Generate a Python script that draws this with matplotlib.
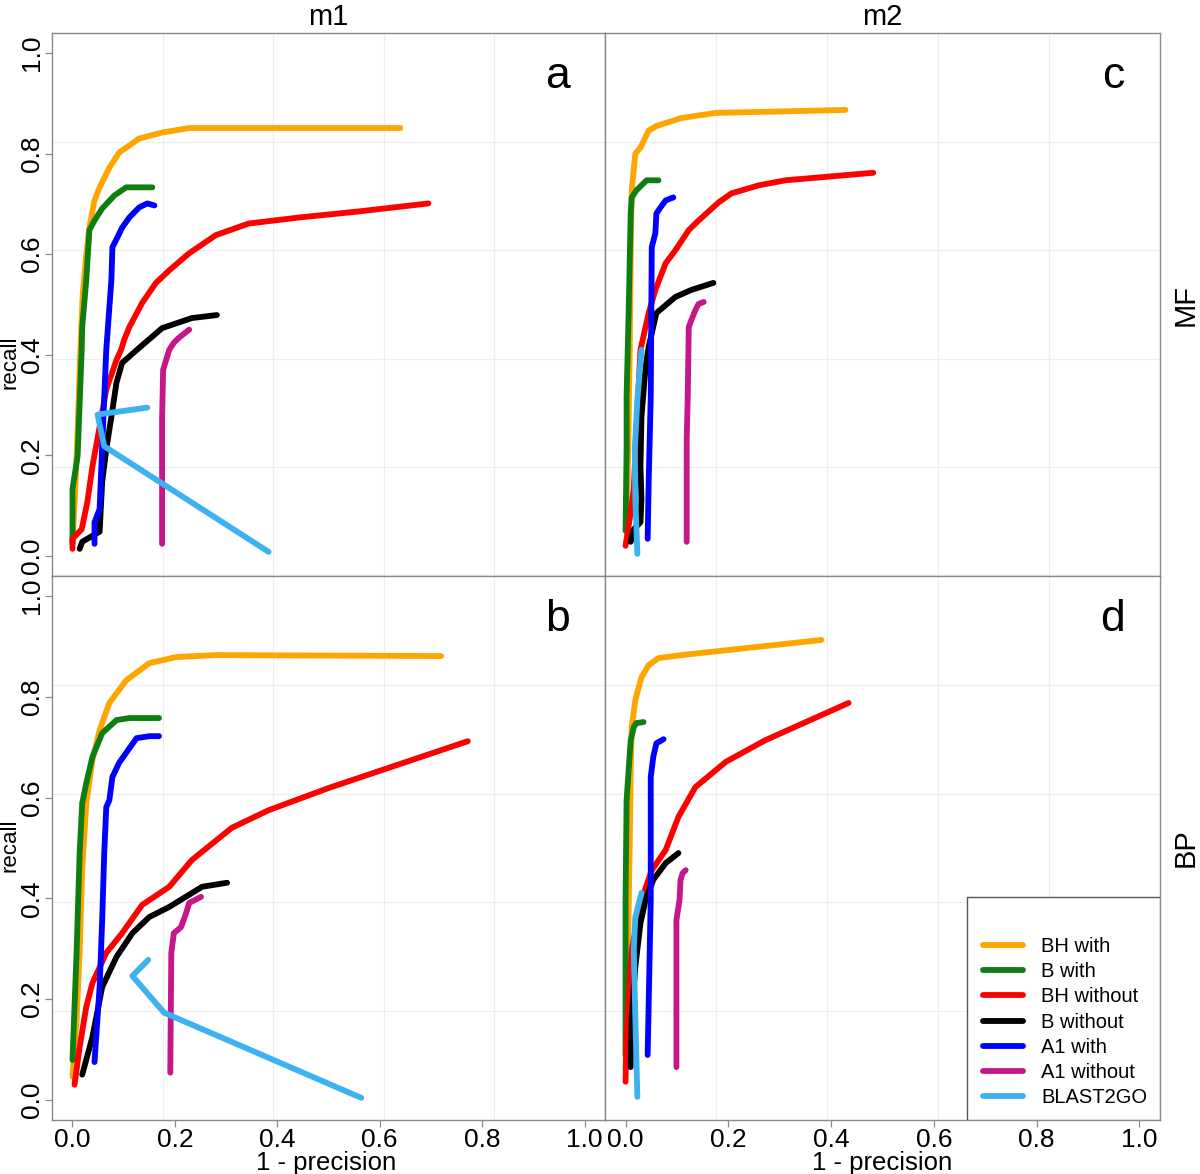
import matplotlib
matplotlib.use("Agg")
import matplotlib.pyplot as plt
from matplotlib.patches import Rectangle

plt.rcParams['font.family'] = ['Liberation Sans', 'DejaVu Sans']

series = ["BH with", "B with", "BH without", "B without", "A1 with", "A1 without", "BLAST2GO"]
colors = ["#FFA500", "#0E7E10", "#FF0000", "#000000", "#0000FF", "#C5168A", "#3DB2F0"]

# panel a: m1 / MF   (x = 1 - precision, y = recall)
panel_a = {
    "BH with": ([0.0, 0.005, 0.01, 0.015, 0.02, 0.027, 0.033, 0.043, 0.053, 0.072, 0.091, 0.130, 0.175, 0.228, 0.640],
                [0.03, 0.12, 0.25, 0.40, 0.52, 0.60, 0.653, 0.707, 0.733, 0.772, 0.802, 0.830, 0.842, 0.851, 0.851]),
    "B with": ([0.0, 0.0, 0.010, 0.018, 0.019, 0.027, 0.033, 0.043, 0.058, 0.082, 0.105, 0.156],
               [0.024, 0.133, 0.198, 0.41, 0.455, 0.549, 0.648, 0.667, 0.691, 0.717, 0.733, 0.733]),
    "BH without": ([0.0, 0.0, 0.018, 0.029, 0.039, 0.053, 0.066, 0.086, 0.095, 0.101, 0.111, 0.136, 0.163, 0.189,
                    0.228, 0.280, 0.344, 0.442, 0.558, 0.695],
                   [0.014, 0.034, 0.053, 0.107, 0.178, 0.257, 0.331, 0.390, 0.41, 0.43, 0.455, 0.503, 0.543, 0.568,
                    0.602, 0.638, 0.661, 0.673, 0.685, 0.701]),
    "B without": ([0.014, 0.019, 0.039, 0.053, 0.058, 0.066, 0.076, 0.086, 0.097, 0.126, 0.175, 0.233, 0.282],
                  [0.014, 0.028, 0.040, 0.048, 0.147, 0.212, 0.277, 0.345, 0.384, 0.410, 0.453, 0.473, 0.479]),
    "A1 with": ([0.043, 0.043, 0.053, 0.058, 0.066, 0.076, 0.078, 0.088, 0.097, 0.111, 0.130, 0.146, 0.160],
                [0.024, 0.067, 0.093, 0.218, 0.41, 0.549, 0.614, 0.634, 0.653, 0.673, 0.693, 0.701, 0.697]),
    "A1 without": ([0.175, 0.175, 0.177, 0.183, 0.189, 0.198, 0.208, 0.228],
                   [0.024, 0.271, 0.370, 0.390, 0.41, 0.424, 0.434, 0.450]),
    "BLAST2GO": ([0.146, 0.049, 0.062, 0.383],
                 [0.295, 0.281, 0.218, 0.008]),
}

# panel b: m1 / BP
panel_b = {
    "BH with": ([0.0, 0.008, 0.014, 0.019, 0.027, 0.039, 0.053, 0.072, 0.105, 0.150, 0.202, 0.280, 0.720],
                [0.046, 0.159, 0.292, 0.456, 0.589, 0.675, 0.734, 0.788, 0.833, 0.867, 0.879, 0.883, 0.881]),
    "B with": ([0.0, 0.008, 0.014, 0.019, 0.027, 0.039, 0.058, 0.086, 0.111, 0.169],
               [0.079, 0.292, 0.490, 0.589, 0.629, 0.681, 0.728, 0.754, 0.758, 0.758]),
    "BH without": ([0.004, 0.014, 0.027, 0.039, 0.066, 0.097, 0.136, 0.189, 0.233, 0.311, 0.383, 0.500, 0.772],
                   [0.030, 0.105, 0.185, 0.232, 0.292, 0.331, 0.387, 0.423, 0.476, 0.540, 0.575, 0.619, 0.712]),
    "B without": ([0.019, 0.039, 0.058, 0.086, 0.117, 0.150, 0.189, 0.253, 0.302],
                  [0.050, 0.125, 0.224, 0.284, 0.331, 0.363, 0.383, 0.423, 0.431]),
    "A1 with": ([0.043, 0.053, 0.058, 0.062, 0.066, 0.072, 0.078, 0.091, 0.125, 0.150, 0.169],
                [0.075, 0.224, 0.357, 0.490, 0.581, 0.595, 0.641, 0.669, 0.718, 0.722, 0.722]),
    "A1 without": ([0.191, 0.193, 0.198, 0.212, 0.222, 0.228, 0.251],
                   [0.054, 0.292, 0.331, 0.343, 0.371, 0.391, 0.403]),
    "BLAST2GO": ([0.148, 0.117, 0.179, 0.564],
                 [0.278, 0.246, 0.173, 0.004]),
}

# panel c: m2 / MF
panel_c = {
    "BH with": ([0.002, 0.005, 0.008, 0.010, 0.012, 0.019, 0.029, 0.045, 0.060, 0.109, 0.175, 0.428],
                [0.05, 0.20, 0.40, 0.60, 0.727, 0.800, 0.812, 0.846, 0.855, 0.871, 0.881, 0.887]),
    "B with": ([0.0, 0.002, 0.002, 0.006, 0.010, 0.012, 0.021, 0.041, 0.064],
               [0.05, 0.212, 0.317, 0.483, 0.681, 0.713, 0.727, 0.747, 0.747]),
    "BH without": ([0.0, 0.010, 0.016, 0.021, 0.029, 0.045, 0.058, 0.078, 0.097, 0.123, 0.142, 0.181, 0.206,
                    0.259, 0.311, 0.482],
                   [0.020, 0.087, 0.133, 0.246, 0.410, 0.483, 0.529, 0.582, 0.608, 0.648, 0.667, 0.703, 0.721,
                    0.737, 0.747, 0.762]),
    "B without": ([0.010, 0.016, 0.029, 0.031, 0.029, 0.031, 0.039, 0.045, 0.060, 0.097, 0.128, 0.171],
                  [0.028, 0.053, 0.067, 0.113, 0.178, 0.277, 0.376, 0.416, 0.483, 0.515, 0.529, 0.543]),
    "A1 with": ([0.043, 0.045, 0.049, 0.051, 0.058, 0.060, 0.068, 0.078, 0.093],
                [0.034, 0.147, 0.317, 0.614, 0.642, 0.681, 0.693, 0.707, 0.713]),
    "A1 without": ([0.119, 0.119, 0.121, 0.123, 0.128, 0.136, 0.142, 0.152],
                   [0.028, 0.232, 0.317, 0.455, 0.469, 0.489, 0.501, 0.505]),
    "BLAST2GO": ([0.023, 0.019, 0.018, 0.023, 0.031],
                 [0.004, 0.113, 0.212, 0.311, 0.41]),
}

# panel d: m2 / BP
panel_d = {
    "BH with": ([0.0, 0.004, 0.008, 0.010, 0.012, 0.019, 0.031, 0.045, 0.064, 0.109, 0.381],
                [0.06, 0.25, 0.50, 0.65, 0.740, 0.794, 0.839, 0.863, 0.877, 0.883, 0.913]),
    "B with": ([0.0, 0.0, 0.002, 0.010, 0.016, 0.021, 0.035],
               [0.089, 0.397, 0.595, 0.714, 0.740, 0.748, 0.750]),
    "BH without": ([0.0, 0.002, 0.012, 0.031, 0.051, 0.078, 0.103, 0.136, 0.195, 0.272, 0.434],
                   [0.036, 0.133, 0.298, 0.397, 0.456, 0.496, 0.562, 0.621, 0.671, 0.714, 0.788]),
    "B without": ([0.010, 0.012, 0.019, 0.029, 0.039, 0.054, 0.078, 0.103],
                  [0.065, 0.165, 0.264, 0.351, 0.397, 0.437, 0.470, 0.490]),
    "A1 with": ([0.043, 0.049, 0.049, 0.054, 0.060, 0.074],
                [0.089, 0.397, 0.641, 0.681, 0.708, 0.716]),
    "A1 without": ([0.099, 0.099, 0.105, 0.107, 0.111, 0.117],
                   [0.065, 0.357, 0.397, 0.437, 0.450, 0.456]),
    "BLAST2GO": ([0.023, 0.019, 0.016, 0.019, 0.031],
                 [0.006, 0.165, 0.298, 0.363, 0.411]),
}

ticks = [0.0, 0.2, 0.4, 0.6, 0.8, 1.0]
col_titles = ["m1", "m2"]
row_titles = ["MF", "BP"]

W, H = 1200, 1174
fig = plt.figure(figsize=(W / 100, H / 100), dpi=100)


def box(x0, y0, x1, y1):
    # pixel box (top-left origin) -> figure fraction rect
    return [x0 / W, 1 - y1 / H, (x1 - x0) / W, (y1 - y0) / H]


ax_a = fig.add_axes(box(52, 33, 605, 576))
ax_c = fig.add_axes(box(605, 33, 1160, 576))
ax_b = fig.add_axes(box(52, 576, 605, 1120))
ax_d = fig.add_axes(box(605, 576, 1160, 1120))

panels = [(ax_a, panel_a, "a", 0, 0), (ax_c, panel_c, "c", 0, 1),
          (ax_b, panel_b, "b", 1, 0), (ax_d, panel_d, "d", 1, 1)]

lo, hi = -0.04, 1.04
handles = []
for ax, data, letter, row, col in panels:
    ax.set_xlim(lo, hi)
    ax.set_ylim(lo, hi)
    # faint R-style grid: 5 equal parts of the plot region
    for k in range(1, 5):
        g = lo + (hi - lo) * k / 5
        ax.axvline(g, color="#eeeeee", lw=0.8, zorder=0)
        ax.axhline(g, color="#eeeeee", lw=0.8, zorder=0)
    for i, name in enumerate(series):
        xs, ys = data[name]
        ln, = ax.plot(xs, ys, color=colors[i], lw=4.2, solid_capstyle="round",
                      solid_joinstyle="round", label=name, zorder=2 + i)
        if row == 1 and col == 1:
            handles.append(ln)
    for sp in ax.spines.values():
        sp.set_color("#8a8a8a")
        sp.set_linewidth(1.0)
    ax.set_xticks(ticks)
    ax.set_yticks(ticks)
    ax.tick_params(length=5, width=0.9, color="#8a8a8a", labelsize=19, pad=1)
    if row == 0:
        ax.tick_params(axis="x", bottom=False, labelbottom=False)
    else:
        ax.set_xticklabels([f"{t:.1f}" for t in ticks])
    if col == 1:
        ax.tick_params(axis="y", left=False, labelleft=False)
    else:
        ax.set_yticklabels([f"{t:.1f}" for t in ticks], rotation=90, va="center")
    ax.text(0.915, 0.92, letter, transform=ax.transAxes, fontsize=32,
            ha="center", va="center")

# column / row headers and axis labels
fig.text(328 / W, 1 - 17 / H, col_titles[0], fontsize=21, ha="center", va="center")
fig.text(882 / W, 1 - 17 / H, col_titles[1], fontsize=21, ha="center", va="center")
fig.text(1186 / W, 1 - 305 / H, row_titles[0], fontsize=21, ha="center", va="center", rotation=90)
fig.text(1186 / W, 1 - 848 / H, row_titles[1], fontsize=21, ha="center", va="center", rotation=90)
fig.text(10 / W, 1 - 362 / H, "recall", fontsize=16, ha="center", va="center", rotation=90)
fig.text(10 / W, 1 - 845 / H, "recall", fontsize=16, ha="center", va="center", rotation=90)
fig.text(326 / W, 1 - 1163 / H, "1 - precision", fontsize=18.5, ha="center", va="center")
fig.text(882 / W, 1 - 1163 / H, "1 - precision", fontsize=18.5, ha="center", va="center")

# legend box in panel d
rx0 = (967 - 605) / 555
rtop = (1120 - 897) / 544
ax_d.add_patch(Rectangle((rx0, 0), 1 - rx0, rtop, transform=ax_d.transAxes,
                         facecolor="white", edgecolor="#555555", lw=1.0, zorder=20))
leg = ax_d.legend(handles=handles, loc="upper left",
                  bbox_to_anchor=((983 - 605) / 555, (1120 - 937) / 544),
                  frameon=False, fontsize=14.5, handlelength=2.0, handletextpad=0.9,
                  labelspacing=0.31, borderpad=0, borderaxespad=0)
leg.set_zorder(21)

fig.savefig("out.png", dpi=100)
